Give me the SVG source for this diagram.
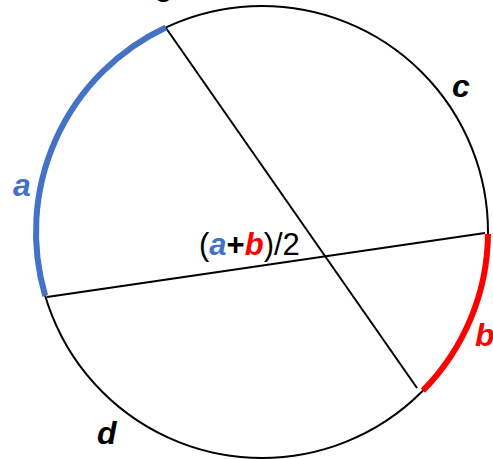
<svg xmlns="http://www.w3.org/2000/svg" width="493" height="459" viewBox="0 0 493 459">
<style>
.ln{stroke:#000;stroke-width:2;fill:none}
.lbl{font-family:"Liberation Sans",Arial,sans-serif;font-weight:bold;font-style:italic;font-size:32px}
.mid{font-family:"Liberation Sans",Arial,sans-serif;font-size:31px}
</style>
<rect width="493" height="459" fill="#fff"/>
<g id="circle">
<circle class="ln" cx="262" cy="232" r="226"/>
</g>
<g id="chords">
<line class="ln" x1="166" y1="28" x2="417" y2="388"/>
<line class="ln" x1="47" y1="297" x2="485" y2="233"/>
</g>
<g id="arc-a">
<path d="M165.8 27.5 A226 226 0 0 0 45.2 295.8" fill="none" stroke="#4472C4" stroke-width="6"/>
<text class="lbl" x="13" y="196" fill="#4472C4">a</text>
</g>
<g id="arc-b">
<path d="M488 234 A226 226 0 0 1 422.9 390.7" fill="none" stroke="#FF0000" stroke-width="6"/>
<text class="lbl" x="475" y="346" fill="#FF0000">b</text>
</g>
<g id="label-c"><text class="lbl" x="452" y="97">c</text></g>
<g id="label-d"><text class="lbl" x="97" y="444">d</text></g>
<g id="label-top"><text class="lbl" x="155" y="2">e</text></g>
<g id="label-mid">
<text class="mid" x="199" y="255">(<tspan fill="#4472C4" font-weight="bold" font-style="italic">a</tspan><tspan font-weight="bold">+</tspan><tspan fill="#FF0000" font-weight="bold" font-style="italic">b</tspan>)/2</text>
</g>
</svg>
